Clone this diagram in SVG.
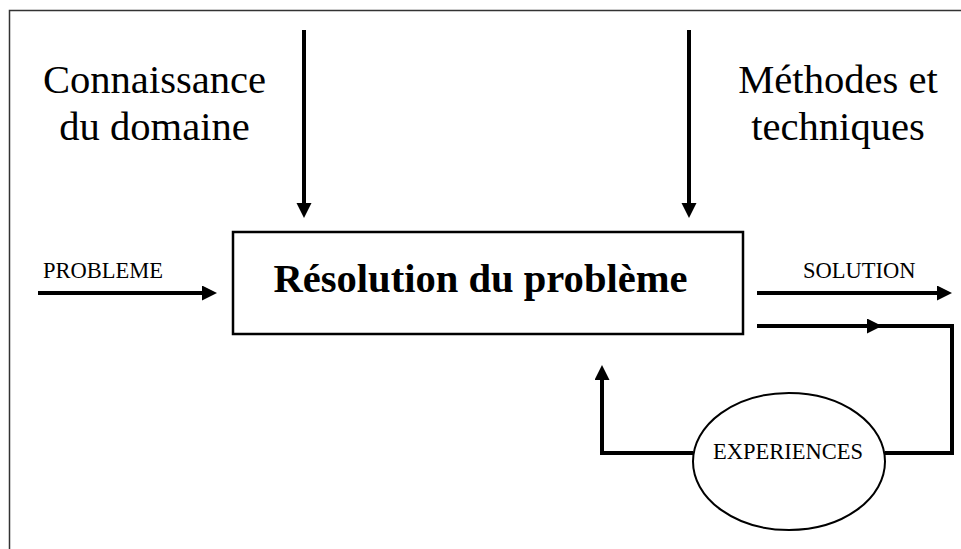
<svg xmlns="http://www.w3.org/2000/svg" width="961" height="549" viewBox="0 0 961 549">
  <style>
    text { font-family: "Liberation Serif", "Times New Roman", serif; fill: #000; }
    .big { font-size: 40.6px; text-anchor: middle; }
    .title { font-size: 40.6px; font-weight: bold; text-anchor: middle; }
    .small { font-size: 22.5px; }
    .conn { fill: none; stroke: #000; stroke-width: 4; stroke-linejoin: miter; }
    .shape { fill: #fff; stroke: #000; }
  </style>
  <defs>
    <marker id="arrow" markerUnits="userSpaceOnUse" markerWidth="16" markerHeight="16" refX="0" refY="7.5" orient="auto" viewBox="0 0 16 16">
      <path d="M0,0 L15,7.5 L0,15 Z" fill="#000"/>
    </marker>
  </defs>
  <rect x="0" y="0" width="961" height="549" fill="#fff"/>
  <rect id="frame" x="9.5" y="10.5" width="1000" height="600" fill="none" stroke="#333" stroke-width="1.5"/>

  <g id="connectors">
    <path class="conn" d="M304,30 V203" marker-end="url(#arrow)"/>
    <path class="conn" d="M689,30 V203" marker-end="url(#arrow)"/>
    <path class="conn" d="M38,293 H202" marker-end="url(#arrow)"/>
    <path class="conn" d="M757,293 H937" marker-end="url(#arrow)"/>
    <path class="conn" d="M757,326 H867" marker-end="url(#arrow)"/>
    <path class="conn" d="M866,326 H952 V453 H885"/>
    <path class="conn" d="M693,453 H602 V380" marker-end="url(#arrow)"/>
  </g>

  <g id="label-connaissance">
    <text class="big" x="154.5" y="93">Connaissance</text>
    <text class="big" x="154.5" y="140">du domaine</text>
  </g>
  <g id="label-methodes">
    <text class="big" x="838" y="93">Méthodes et</text>
    <text class="big" x="838" y="140">techniques</text>
  </g>
  <g id="label-probleme">
    <text class="small" x="43" y="278">PROBLEME</text>
  </g>
  <g id="label-solution">
    <text class="small" x="803" y="278">SOLUTION</text>
  </g>

  <g id="node-resolution">
    <rect class="shape" x="233" y="232" width="510" height="102" stroke-width="2.5"/>
    <text class="title" x="480.5" y="292">Résolution du problème</text>
  </g>

  <g id="node-experiences">
    <ellipse class="shape" cx="789" cy="461.5" rx="96" ry="68.5" stroke-width="2"/>
    <text class="small" x="788" y="459" text-anchor="middle">EXPERIENCES</text>
  </g>
</svg>
